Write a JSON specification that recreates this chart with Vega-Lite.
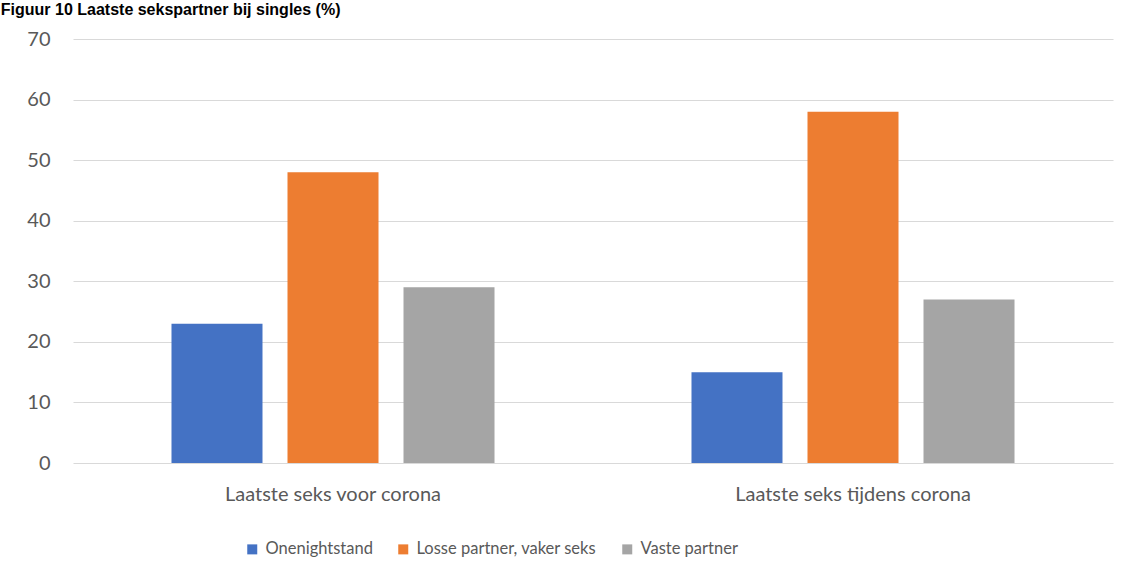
{
  "$schema": "https://vega.github.io/schema/vega-lite/v6.json",
  "width": 1040,
  "height": 424,
  "autosize": {"type": "none"},
  "padding": {"left": 73, "top": 39, "right": 22, "bottom": 115},
  "background": "white",
  "title": {
    "text": "Figuur 10 Laatste sekspartner bij singles (%)",
    "anchor": "start",
    "dx": -26,
    "offset": 11,
    "baseline": "top",
    "font": "Liberation Sans",
    "fontSize": 16,
    "fontWeight": "bold",
    "color": "#000000"
  },
  "data": {
    "values": [
      {"periode": "Laatste seks voor corona", "partner": "Onenightstand", "pct": 23},
      {"periode": "Laatste seks voor corona", "partner": "Losse partner, vaker seks", "pct": 48},
      {"periode": "Laatste seks voor corona", "partner": "Vaste partner", "pct": 29},
      {"periode": "Laatste seks tijdens corona", "partner": "Onenightstand", "pct": 15},
      {"periode": "Laatste seks tijdens corona", "partner": "Losse partner, vaker seks", "pct": 58},
      {"periode": "Laatste seks tijdens corona", "partner": "Vaste partner", "pct": 27}
    ]
  },
  "mark": {"type": "bar"},
  "encoding": {
    "x": {
      "field": "periode",
      "type": "nominal",
      "sort": ["Laatste seks voor corona", "Laatste seks tijdens corona"],
      "scale": {"paddingInner": 0, "paddingOuter": 0},
      "axis": {
        "title": null,
        "labelAngle": 0,
        "domain": false,
        "ticks": false,
        "labelPadding": 21,
        "labelLimit": 0,
        "labelFont": "Lato",
        "labelFontSize": 20,
        "labelColor": "#595959"
      }
    },
    "xOffset": {
      "field": "partner",
      "type": "nominal",
      "sort": ["Onenightstand", "Losse partner, vaker seks", "Vaste partner"],
      "scale": {"paddingInner": 0.2155, "paddingOuter": 0.849}
    },
    "y": {
      "field": "pct",
      "type": "quantitative",
      "scale": {"domain": [0, 70]},
      "axis": {
        "title": null,
        "values": [0, 10, 20, 30, 40, 50, 60, 70],
        "domain": false,
        "ticks": false,
        "labelPadding": 23,
        "labelFont": "Lato",
        "labelFontSize": 20,
        "labelColor": "#595959",
        "gridColor": "#d9d9d9",
        "gridWidth": 1
      }
    },
    "color": {
      "field": "partner",
      "type": "nominal",
      "sort": ["Onenightstand", "Losse partner, vaker seks", "Vaste partner"],
      "scale": {
        "domain": ["Onenightstand", "Losse partner, vaker seks", "Vaste partner"],
        "range": ["#4472c4", "#ed7d31", "#a5a5a5"]
      },
      "legend": {
        "title": null,
        "orient": "none",
        "legendX": 171,
        "legendY": 502,
        "direction": "horizontal",
        "symbolType": "square",
        "symbolSize": 100,
        "symbolStrokeWidth": 0,
        "labelFont": "Lato",
        "labelFontSize": 16.5,
        "labelLimit": 0,
        "labelColor": "#595959",
        "columnPadding": 22,
        "labelOffset": 5
      }
    }
  },
  "config": {
    "view": {"stroke": null},
    "axis": {"gridColor": "#d9d9d9"}
  }
}
